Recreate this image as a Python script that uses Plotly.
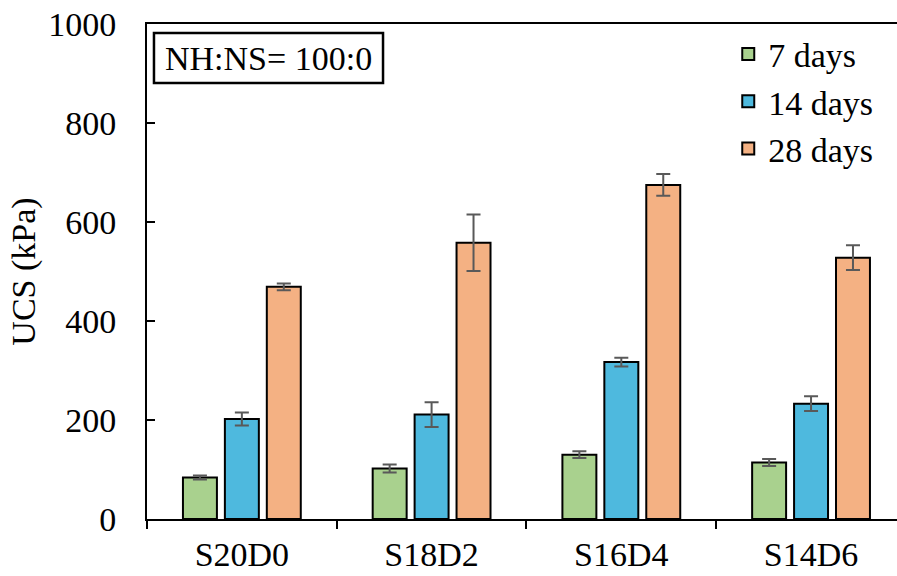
import plotly.graph_objects as go

categories = ["S20D0", "S18D2", "S16D4", "S14D6"]
series_names = ["7 days", "14 days", "28 days"]
ucs_7 = [84, 102, 130, 114]
ucs_14 = [202, 211, 317, 233]
ucs_28 = [469, 558, 675, 528]
err_7 = [4, 8, 7, 7]
err_14 = [13, 25, 9, 15]
err_28 = [7, 57, 22, 25]
colors = ["#A9D18E", "#4EB9DE", "#F4B183"]
y_ticks = [0, 200, 400, 600, 800, 1000]
note_text = "NH:NS= 100:0"

FONT = "Liberation Serif"
FS = 34

fig = go.Figure()
for name, vals, errs, col in zip(series_names, [ucs_7, ucs_14, ucs_28],
                                 [err_7, err_14, err_28], colors):
    fig.add_trace(go.Bar(
        x=categories, y=vals, name=name,
        marker=dict(color=col, line=dict(color="black", width=2)),
        error_y=dict(type="data", array=errs, visible=True,
                     color="#595959", thickness=2, width=7),
    ))

fig.update_layout(
    width=897, height=576,
    margin=dict(l=147, r=0, t=24, b=57),
    paper_bgcolor="white", plot_bgcolor="white",
    barmode="group", bargap=0.337, bargroupgap=0.19,
    font=dict(family=FONT, size=FS, color="black"),
    showlegend=True,
    legend=dict(x=0.775, xanchor="left", y=0.997, yanchor="top",
                bgcolor="rgba(0,0,0,0)", font=dict(family=FONT, size=FS),
                tracegroupgap=0),
    xaxis=dict(
        range=[-0.5, 3.453], showline=True, linecolor="black", linewidth=2,
        mirror=True, ticks="outside", ticklen=8, tickwidth=2, tickcolor="black",
        tickson="boundaries", showgrid=False, zeroline=False,
        tickfont=dict(family=FONT, size=FS), ticklabelstandoff=4,
    ),
    yaxis=dict(
        range=[0, 1000], tickvals=y_ticks, showline=True, linecolor="black",
        linewidth=2, ticks="inside", ticklen=8, tickwidth=2, tickcolor="black",
        showgrid=False, zeroline=False, tickfont=dict(family=FONT, size=FS),
        ticklabelstandoff=22,
        title=dict(text="UCS (kPa)", font=dict(family=FONT, size=FS), standoff=2),
    ),
    shapes=[dict(
        type="rect", xref="paper", yref="paper",
        x0=0.0093, x1=0.3147, y0=0.8808, y1=0.9818,
        line=dict(color="black", width=2.5), fillcolor="white", layer="above",
    )],
    annotations=[dict(
        text=note_text, xref="paper", yref="paper", x=0.162, y=0.931,
        xanchor="center", yanchor="middle", showarrow=False,
        font=dict(size=FS, family=FONT),
    )],
)

fig.write_html("out.html")
